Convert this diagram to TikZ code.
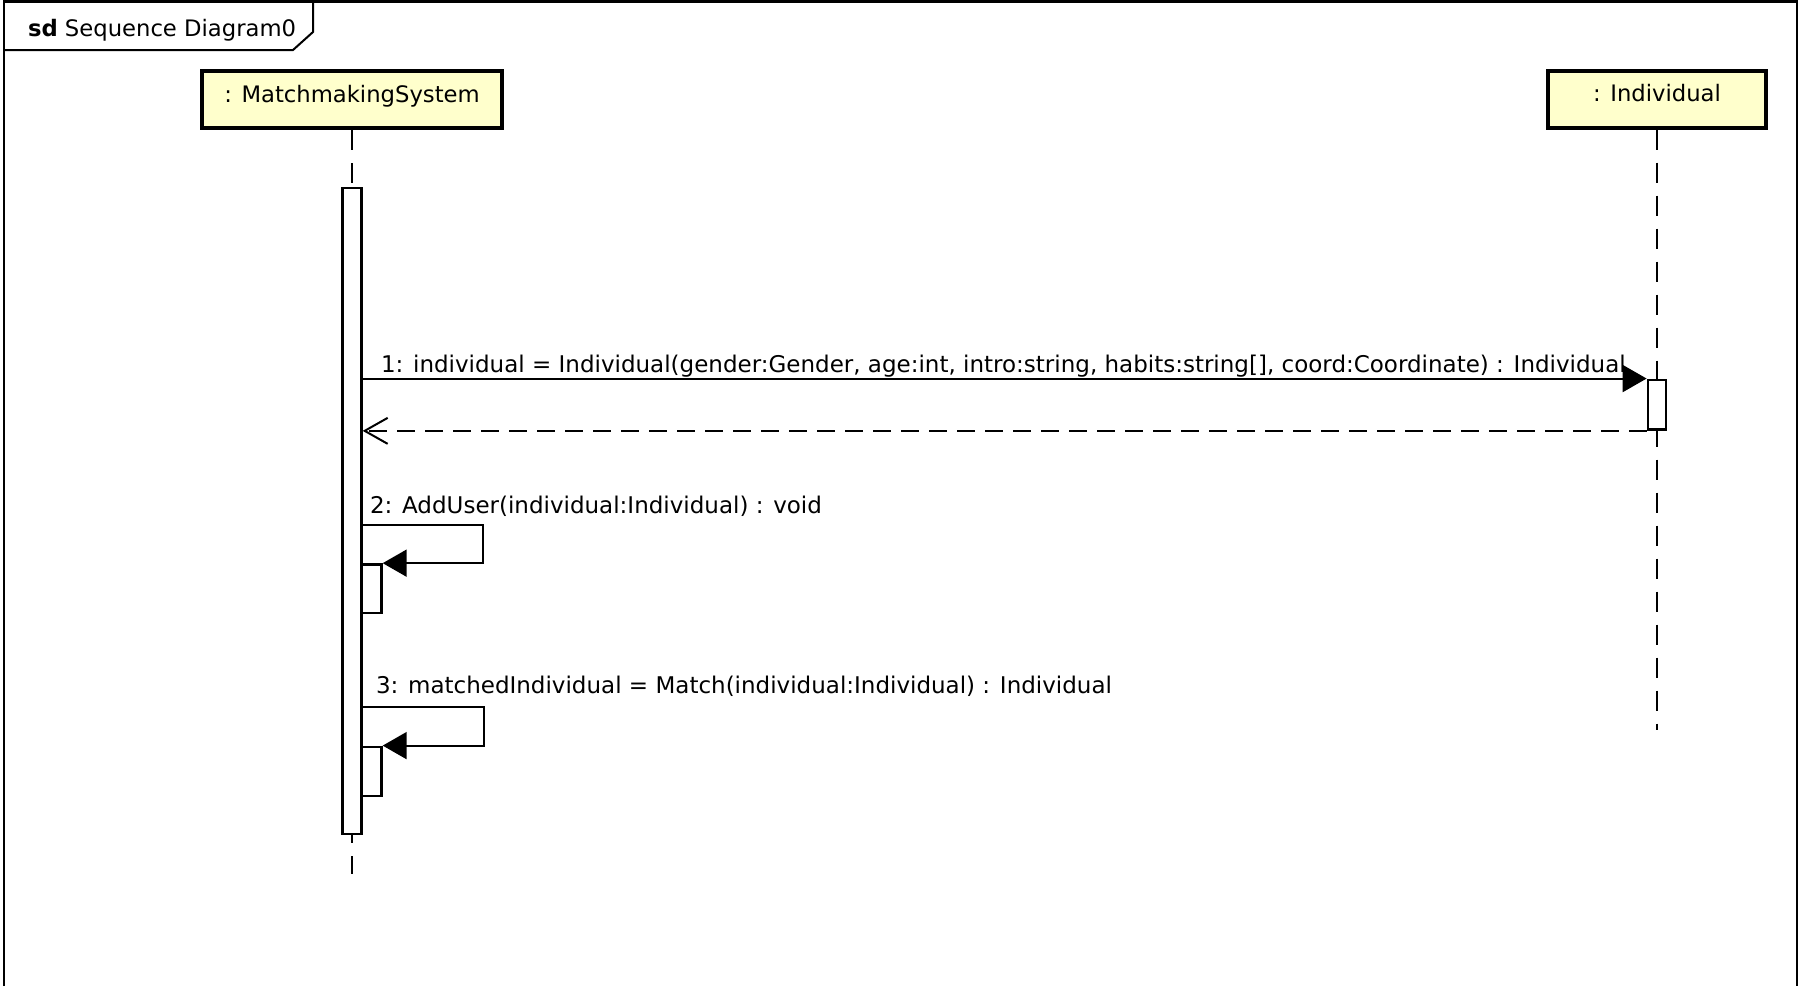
\documentclass[tikz,border=0pt]{standalone}
\usepackage{fontspec}
\setmainfont{DejaVu Sans}
\usetikzlibrary{arrows.meta}
\definecolor{headfill}{RGB}{255,255,204}

\begin{document}
\begin{tikzpicture}[x=1pt,y=-1pt,line width=2pt,
  every node/.style={font=\fontsize{22.7}{27}\selectfont},
  participant/.style={rectangle,draw,line width=4pt,fill=headfill,minimum height=57pt,
    inner sep=0pt,text height=17pt,text depth=12pt},
  activation/.style={rectangle,draw,line width=2.8pt,fill=white,inner sep=0pt},
  msg text/.style={anchor=base west,inner sep=0pt,font=\fontsize{23}{27}\selectfont},
  lifeline/.style={dash pattern=on 20pt off 13pt},
  call/.style={-{Triangle[length=24pt,width=27pt]}},
  reply/.style={dash pattern=on 18pt off 10pt,-{Straight Barb[length=23pt,width=26pt]}}]

  \useasboundingbox (0,0) rectangle (1802,986);

  % frame and its tab
  \draw[line width=2.7pt] (4,986) -- (4,1.5) -- (1797,1.5) -- (1797,986);
  \draw (4,50) -- (293,50) -- (313,32) -- (313,1.5);
  \node[anchor=base west,inner sep=0pt] (title) at (27,36) {\textbf{sd} Sequence Diagram0};

  % participants
  \node[participant,minimum width=300pt] (mms) at (352,99.5) {: MatchmakingSystem};
  \node[participant,minimum width=218pt] (ind) at (1657,99) {: Individual};

  \coordinate (mmsEnd) at (352,874);
  \coordinate (indEnd) at (1657,730);
  \draw[lifeline] (mms.south) -- (mmsEnd);
  \draw[lifeline] (ind.south) -- (indEnd);

  % activations
  \node[activation,minimum width=18.5pt,minimum height=646pt] (mmsAct) at (352,511) {};
  \node[activation,minimum width=18pt,minimum height=49.5pt] (indAct) at (1657,404.7) {};
  \node[activation,minimum width=20pt,minimum height=48.5pt] (selfAct1) at (371.3,588.8) {};
  \node[activation,minimum width=20pt,minimum height=49pt] (selfAct2) at (371.3,771.5) {};

  \coordinate (call2) at (362.6,524.5);
  \coordinate (call3) at (362.6,707);

  % messages
  \draw[call] (mmsAct.east |- indAct.north west) -- (indAct.north west);
  \draw[reply] (indAct.south west) -- (indAct.south west -| mmsAct.east);
  \draw[call] (call2) -- ++(120.4,0) |- (selfAct1.north east);
  \draw[call] (call3) -- ++(121.4,0) |- (selfAct2.north east);

  \node[msg text] (msg1) at (380,372) {1: individual = Individual(gender:Gender, age:int, intro:string, habits:string[], coord:Coordinate) : Individual};
  \node[msg text] (msg2) at (369,513) {2: AddUser(individual:Individual) : void};
  \node[msg text] (msg3) at (375,693) {3: matchedIndividual = Match(individual:Individual) : Individual};

\end{tikzpicture}
\end{document}
